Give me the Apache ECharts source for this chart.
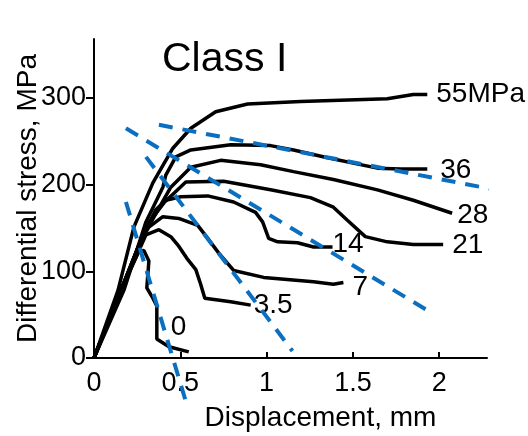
<!DOCTYPE html>
<html>
<head>
<meta charset="utf-8">
<script src="https://cdn.jsdelivr.net/npm/echarts@6/dist/echarts.min.js"></script>
<style>
html, body { margin: 0; padding: 0; background: #fff; }
#chart { width: 528px; height: 436px; }
</style>
</head>
<body>
<div id="chart"></div>
<script>
// confining pressure of each curve (MPa)
var curveNames = ['55MPa', '36', '28', '21', '14', '7', '3.5', '0']

// [displacement mm, differential stress MPa]
var c55 = [[0, 0], [0.139, 78], [0.231, 151], [0.341, 202], [0.457, 242], [0.561, 265], [0.705, 284], [0.890, 293], [1.197, 296], [1.699, 299], [1.850, 304], [1.931, 304]]
var c36 = [[0, 0], [0.173, 78], [0.301, 157], [0.399, 197], [0.416, 211], [0.474, 232], [0.561, 240], [0.792, 246], [1.023, 245], [1.156, 240], [1.353, 231], [1.642, 219], [1.775, 218], [1.931, 218]]
var c28 = [[0, 0], [0.156, 78], [0.272, 136], [0.445, 197], [0.561, 220], [0.734, 228], [0.965, 223], [1.156, 215], [1.387, 206], [1.642, 194], [1.850, 182], [2.075, 167]]
var c21 = [[0, 0], [0.156, 78], [0.272, 136], [0.318, 156], [0.405, 179], [0.532, 203], [0.751, 204], [1.023, 194], [1.254, 185], [1.387, 174], [1.468, 159], [1.572, 140], [1.699, 134], [1.850, 131], [2.023, 131]]
var c14 = [[0, 0], [0.156, 78], [0.272, 136], [0.358, 171], [0.416, 182], [0.503, 186], [0.659, 187], [0.809, 180], [0.936, 168], [0.977, 157], [1.012, 138], [1.064, 134], [1.179, 133], [1.272, 128], [1.382, 128]]
var c7 = [[0, 0], [0.156, 78], [0.272, 136], [0.318, 151], [0.399, 163], [0.491, 161], [0.601, 153], [0.659, 138], [0.723, 121], [0.809, 101], [0.983, 93], [1.272, 88], [1.387, 85], [1.445, 87]]
var c3_5 = [[0, 0], [0.156, 78], [0.254, 121], [0.301, 142], [0.376, 148], [0.445, 140], [0.491, 129], [0.538, 115], [0.590, 102], [0.618, 85], [0.642, 69], [0.792, 65], [0.908, 61]]
var c0 = [[0, 0], [0.156, 78], [0.260, 123], [0.289, 124], [0.318, 112], [0.306, 81], [0.341, 69], [0.364, 60], [0.364, 22], [0.434, 13], [0.549, 7]]

// blue dashed guide lines (two end points each)
var guide1 = [[0.185, 180], [0.538, -54]]
var guide2 = [[0.301, 232], [1.150, 8]]
var guide3 = [[0.185, 265], [1.931, 55]]
var guide4 = [[0.376, 269], [2.509, 187]]

var xTicks = [0, 0.5, 1, 1.5, 2]
var yTicks = [0, 100, 200, 300]

var font = 'Liberation Sans, Arial, Helvetica, sans-serif'
var curves = [c55, c36, c28, c21, c14, c7, c3_5, c0]
// label offsets from each curve's end
var labelOffsets = [[9, 0], [13, 1], [5, 2], [9, 1], [0, -3], [9, 5], [3, 0], [-18, -25]]
var guides = [guide1, guide2, guide3, guide4]

var series = []
curves.forEach(function (d, i) {
  series.push({
    name: curveNames[i],
    type: 'line',
    data: d,
    symbol: 'none',
    lineStyle: { color: '#000', width: 3.5 },
    endLabel: {
      show: true,
      formatter: curveNames[i],
      color: '#000',
      fontFamily: font,
      fontSize: 28,
      distance: 0,
      offset: labelOffsets[i]
    },
    z: 3
  })
})
guides.forEach(function (d) {
  series.push({
    type: 'line',
    data: d,
    symbol: 'none',
    clip: false,
    lineStyle: { color: '#0a6fc0', width: 4, type: [14, 10] },
    z: 4
  })
})

var chart = echarts.init(document.getElementById('chart'))
chart.setOption({
  backgroundColor: '#fff',
  animation: false,
  title: {
    text: 'Class I',
    left: 157,
    top: 34,
    textStyle: { fontFamily: font, fontSize: 41, fontWeight: 'normal', color: '#000' }
  },
  grid: { left: 94, right: 41, top: 39, bottom: 78, outerBoundsMode: 'none', containLabel: false },
  xAxis: {
    type: 'value',
    min: 0,
    max: 2.277,
    name: 'Displacement, mm',
    nameLocation: 'middle',
    nameGap: 46,
    nameTextStyle: { fontFamily: font, fontSize: 28, color: '#000', padding: [0, 0, 0, 60] },
    splitLine: { show: false },
    axisLine: { lineStyle: { color: '#000', width: 2 } },
    axisTick: { inside: true, length: 6, lineStyle: { color: '#000', width: 2 }, customValues: xTicks },
    axisLabel: {
      customValues: xTicks,
      margin: 12,
      color: '#000',
      fontFamily: font,
      fontSize: 27
    }
  },
  yAxis: {
    type: 'value',
    min: 0,
    max: 368,
    name: 'Differential stress, MPa',
    nameLocation: 'middle',
    nameGap: 52,
    nameRotate: 90,
    nameMoveOverlap: false,
    nameTextStyle: { fontFamily: font, fontSize: 28, color: '#000' },
    splitLine: { show: false },
    axisLine: { show: true, lineStyle: { color: '#000', width: 2 } },
    axisTick: { show: true, length: 8, lineStyle: { color: '#000', width: 2 }, customValues: yTicks },
    axisLabel: {
      customValues: yTicks,
      margin: 8,
      color: '#000',
      fontFamily: font,
      fontSize: 27
    }
  },
  series: series
})
</script>
</body>
</html>
